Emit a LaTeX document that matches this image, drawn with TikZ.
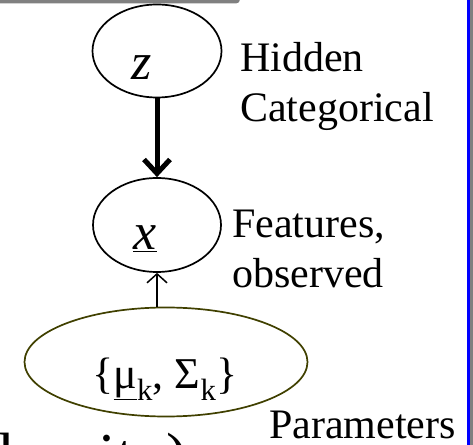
\documentclass[tikz,border=0pt]{standalone}
\usepackage{fontspec}
\setmainfont{Liberation Serif}
\usetikzlibrary{arrows.meta,shapes.geometric}
\definecolor{paramline}{RGB}{64,64,0}
\definecolor{frameblue}{RGB}{0,0,255}
\definecolor{shadowgray}{RGB}{128,128,128}

\begin{document}
\begin{tikzpicture}[x=1pt, y=1pt,
	var/.style={draw, ellipse, line width=1.7pt, inner sep=0pt},
	sym/.style={inner sep=0pt, anchor=base},
	lbl/.style={inner sep=0pt, anchor=base west, align=left, font=\fontsize{42}{50}\selectfont}]
		\useasboundingbox (0,0) rectangle (473,444);
		\clip (0,0) rectangle (473,444);
		\coordinate (Z) at (157,393);
		\coordinate (X) at (157,219);
		\coordinate (P) at (166,82);
		\fill[shadowgray, rounded corners=4pt] (-10,460) rectangle (240,440.5);
		\fill[frameblue] (467,-5) rectangle (470,450);
		\fill[shadowgray] (470,-5) rectangle (473,450);
		\node[var, minimum width=129pt, minimum height=93pt] (z) at (Z) {};
		\node[var, minimum width=128pt, minimum height=94pt] (x) at (X) {};
		\node[var, draw=paramline, minimum width=283pt, minimum height=109pt] (p) at (P) {};
		\node[sym, font=\fontsize{52}{52}\selectfont] (zsym) at (142,364) {\textit{z}};
		\node[sym, font=\fontsize{52}{52}\selectfont] (xsym) at (145,194) {\underline{\textit{x}}};
		\node[sym, font=\fontsize{44}{44}\selectfont] (psym) at (165,56) {\{\underline{μ}\textsubscript{k}, Σ\textsubscript{k}\}};
		\draw[line width=5pt, -{Straight Barb[length=14pt,width=26pt]}] (z) -- (x);
		\draw[line width=1.5pt, -{Straight Barb[length=9pt,width=20pt]}] (x.south |- p.north) -- (x.south);
		\node[lbl] (hid) at (240,322) {Hidden\\Categorical};
		\node[lbl] (feat) at (232,156) {Features,\\observed};
		\node[lbl] (par) at (269,6) {Parameters};
		\node[inner sep=0pt, anchor=base west, font=\fontsize{64}{64}\selectfont] (dens) at (-19,-33) {density)};
\end{tikzpicture}
\end{document}
